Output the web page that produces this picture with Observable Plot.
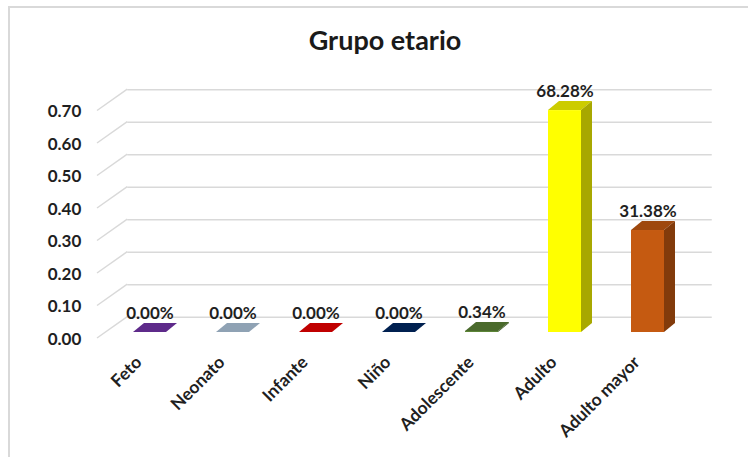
<!DOCTYPE html>
<html>
<head>
<meta charset="utf-8">
<script src="https://cdn.jsdelivr.net/npm/d3@7"></script>
<script src="https://cdn.jsdelivr.net/npm/@observablehq/plot@0.6"></script>
<style>
  html, body { margin: 0; padding: 0; background: #fff; }
  #title-box { position: relative; height: 66px; }
  #title { position: absolute; left: 0; width: 770px; top: 26px; text-align: center;
           font-family: Lato, sans-serif; font-weight: bold; font-size: 27px; line-height: 1; color: #1a1a1a; }
  #frame { position: absolute; left: 8px; top: 6px; width: 800px; height: 500px;
           border-left: 2px solid #d9d9d9; border-top: 2px solid #d9d9d9; pointer-events: none; }
</style>
</head>
<body>
<div id="title-box"><div id="title">Grupo etario</div></div>
<div id="chart"></div>
<div id="frame"></div>
<script>
// ---- data ----
const categories = ["Feto", "Neonato", "Infante", "Niño", "Adolescente", "Adulto", "Adulto mayor"];
const values = [0, 0, 0, 0, 0.0034, 0.6828, 0.3138];
const yTicks = [0, 0.1, 0.2, 0.3, 0.4, 0.5, 0.6, 0.7];

// ---- styles ----
const frontColors = ["#7634ac", "#b3cae1", "#f00000", "#002864", "#5c8537", "#ffff00", "#c55a11"];
const shade = (c, k) => { const r = d3.rgb(c); return d3.rgb(r.r * k, r.g * k, r.b * k).formatHex(); };
const topColors = frontColors.map(c => shade(c, 0.8));
const sideColors = frontColors.map(c => shade(c, 0.66));
const DX = 11, DY = -9;          // bar depth offset
const WX = 20.5, WY = -15.3;     // back wall offset
const FX = -9.75, FY = 6;        // front floor edge offset

const data = categories.map((c, i) => ({cat: c, v: values[i], color: frontColors[i]}));

// side wall slanted lines
function sideWall(index, {y}, vals, dims) {
  const g = d3.create("svg:g");
  const ml = dims.marginLeft;
  for (const t of yTicks) {
    g.append("line")
      .attr("x1", ml + FX).attr("y1", y(t) + FY)
      .attr("x2", ml + WX).attr("y2", y(t) + WY)
      .attr("stroke", "#d9d9d9").attr("stroke-width", 1.5);
  }
  return g.node();
}

// top and side faces of 3D bars
function barFaces(index, {x, y}) {
  const g = d3.create("svg:g");
  const bw = x.bandwidth();
  categories.forEach((c, i) => {
    const x0 = x(c), x1 = x0 + bw, yt = y(values[i]), yb = y(0);
    g.append("path")
      .attr("d", `M${x0},${yt}L${x1},${yt}L${x1 + DX},${yt + DY}L${x0 + DX},${yt + DY}Z`)
      .attr("fill", topColors[i]);
    if (yb - yt > 0.3) {
      g.append("path")
        .attr("d", `M${x1},${yt}L${x1 + DX},${yt + DY}L${x1 + DX},${yb + DY}L${x1},${yb}Z`)
        .attr("fill", sideColors[i]);
    }
  });
  return g.node();
}

const chart = Plot.plot({
  width: 748,
  height: 391,
  marginLeft: 106.75,
  marginRight: 56.75,
  marginTop: 38.5,
  marginBottom: 125,
  style: {fontFamily: "Lato, sans-serif", fontWeight: "bold", fontSize: "16px", color: "#1f1f1f", background: "transparent"},
  x: {domain: categories, paddingInner: 0.6, paddingOuter: 0.3, axis: null},
  y: {domain: [0, 0.7], axis: null},
  marks: [
    Plot.ruleY(yTicks, {dx: WX, dy: WY, stroke: "#d9d9d9", strokeWidth: 1.5}),
    sideWall,
    Plot.axisY({ticks: yTicks, tickFormat: d3.format(".2f"), label: null, tickSize: 0, tickPadding: 26, dy: 7, fontSize: 17, fontWeight: "bold"}),
    Plot.barY(data, {x: "cat", y: "v", fill: "color"}),
    barFaces,
    Plot.text(data, {x: "cat", y: "v", text: d => d3.format(".2%")(d.v), dy: -19, lineAnchor: "middle", fontSize: 17, fontWeight: "bold"}),
    Plot.text(categories, {x: d => d, text: d => d, frameAnchor: "bottom", rotate: -45, textAnchor: "end", lineAnchor: "middle", dx: -11, dy: 27, fontSize: 17.5, fontWeight: "bold"})
  ]
});
document.getElementById("chart").appendChild(chart);
</script>
</body>
</html>
